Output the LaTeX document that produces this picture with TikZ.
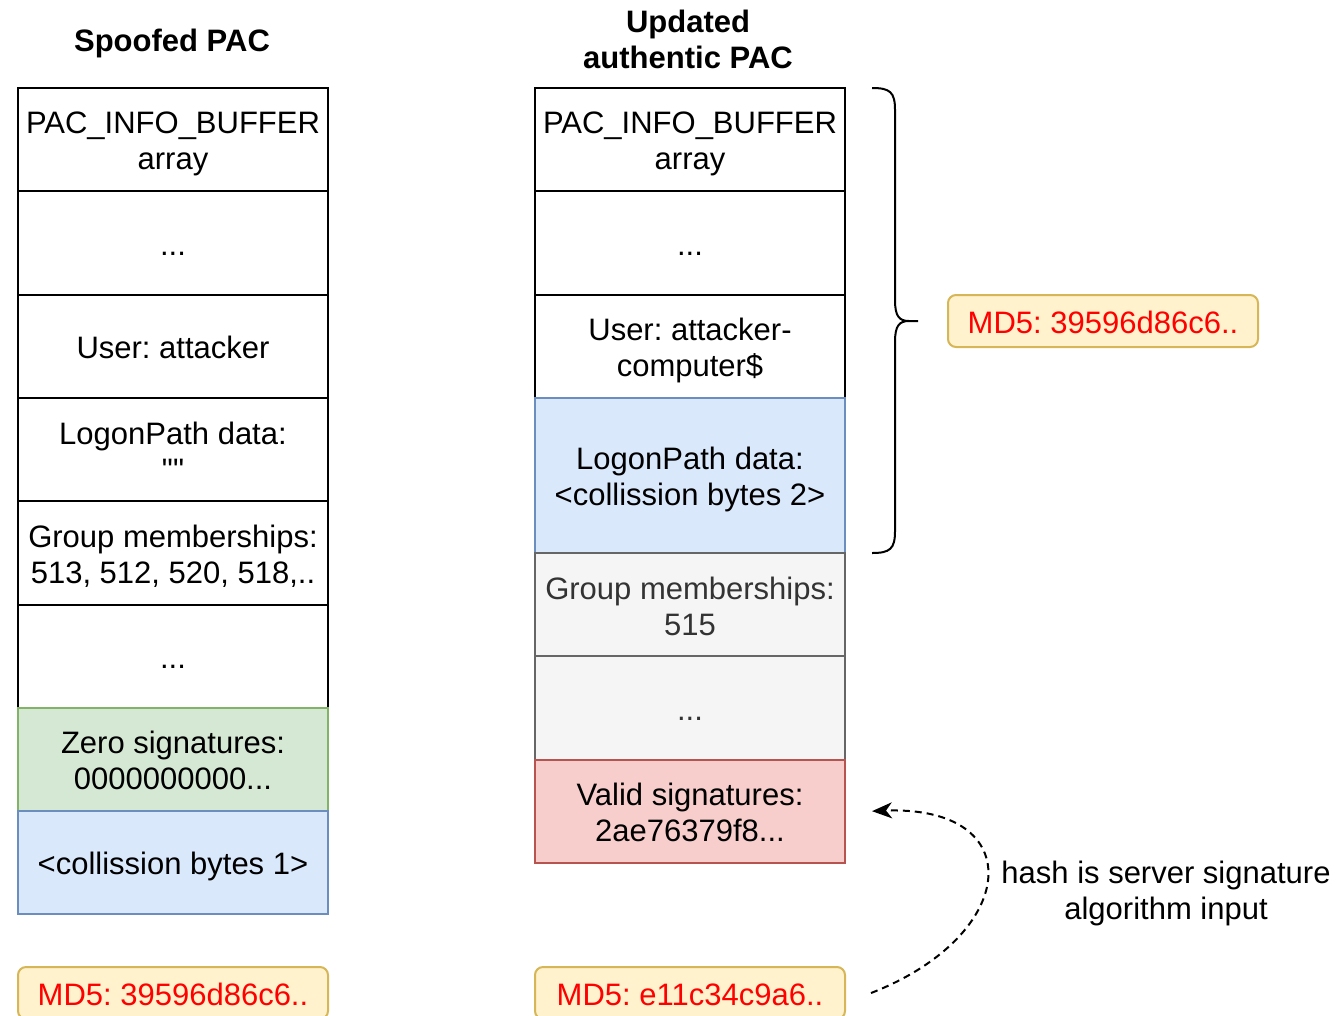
\documentclass[tikz,border=0pt]{standalone}
\usepackage{fontspec}
\newfontfamily\lsans{Liberation Sans}
\usetikzlibrary{arrows.meta}
\definecolor{greenfill}{HTML}{D5E8D4}
\definecolor{greenline}{HTML}{82B366}
\definecolor{bluefill}{HTML}{DAE8FC}
\definecolor{blueline}{HTML}{6C8EBF}
\definecolor{grayfill}{HTML}{F5F5F5}
\definecolor{grayline}{HTML}{666666}
\definecolor{graytext}{HTML}{333333}
\definecolor{redfill}{HTML}{F8CECC}
\definecolor{redline}{HTML}{B85450}
\definecolor{notefill}{HTML}{FFF2CC}
\definecolor{noteline}{HTML}{D6B656}
\definecolor{hashred}{HTML}{FF0000}
% line strut: every text line occupies a 36pt box
\newcommand{\ls}{\rule[-5.5pt]{0pt}{36pt}}
\tikzset{
  txt/.style={font=\lsans\frenchspacing\fontsize{31}{36}\selectfont, align=center,
    execute at end node=\ls},
  cell/.style={txt, draw=black, fill=white, line width=2pt, rectangle,
    minimum width=310pt, minimum height=103.3pt, inner sep=0pt, outer sep=0pt,
    anchor=north},
  tallcell/.style={cell, minimum height=155pt},
  greencell/.style={fill=greenfill, draw=greenline},
  bluecell/.style={fill=bluefill, draw=blueline},
  graycell/.style={fill=grayfill, draw=grayline, text=graytext},
  redcell/.style={fill=redfill, draw=redline},
  hashbox/.style={txt, draw=noteline, fill=notefill, line width=2pt,
    rounded corners=8pt, minimum width=310pt, minimum height=52pt,
    inner sep=0pt, text=hashred},
  title/.style={txt, font=\lsans\bfseries\frenchspacing\fontsize{31}{36}\selectfont},
  hasharrow/.style={dashed, dash pattern=on 7pt off 5pt, line width=2pt,
    -{Stealth[length=20pt, width=16pt, inset=6pt]}},
}
\begin{document}
\begin{tikzpicture}[x=1pt, y=-1pt]
\useasboundingbox (0,0) rectangle (1337,1015);

% titles
\node[title] (tspoof) at (172,39) {\ls Spoofed PAC};
\node[title] (tauth) at (688,38) {\ls Updated\\authentic PAC};

% spoofed PAC layout
\node[cell] (l1) at (173,88) {\ls PAC\_INFO\_BUFFER\\array};
\node[cell] (l2) at (l1.south) {\ls ...};
\node[cell] (l3) at (l2.south) {\ls User: attacker};
\node[cell] (l4) at (l3.south) {\ls LogonPath data:\\""};
\node[cell] (l5) at (l4.south) {\ls Group memberships:\\513, 512, 520, 518,..};
\node[cell] (l6) at (l5.south) {\ls ...};
\node[cell, greencell] (l7) at (l6.south) {\ls Zero signatures:\\0000000000...};
\node[cell, bluecell] (l8) at (l7.south) {\ls <collission bytes 1>};

% updated authentic PAC layout
\node[cell] (r1) at (690,88) {\ls PAC\_INFO\_BUFFER\\array};
\node[cell] (r2) at (r1.south) {\ls ...};
\node[cell] (r3) at (r2.south) {\ls User: attacker-\\computer\$};
\node[tallcell, bluecell] (r4) at (r3.south) {\ls LogonPath data:\\<collission bytes 2>};
\node[cell, graycell] (r5) at (r4.south) {\ls Group memberships:\\515};
\node[cell, graycell] (r6) at (r5.south) {\ls ...};
\node[cell, redcell] (r7) at (r6.south) {\ls Valid signatures:\\2ae76379f8...};

% hashes
\node[hashbox, anchor=north] (md5l) at (173,966) {\ls MD5: 39596d86c6..};
\node[hashbox, anchor=north] (md5r) at (690,966) {\ls MD5: e11c34c9a6..};
\node[hashbox] (md5b) at (1103,321) {\ls MD5: 39596d86c6..};

% brace over the hashed part
\draw[line width=2pt] (872,88) .. controls (890,88) and (895,92) .. (895,110)
  -- (895,300) .. controls (895,316) and (899,321) .. (909,321) -- (918,321)
  (909,321) .. controls (899,321) and (895,326) .. (895,342)
  -- (895,531) .. controls (895,549) and (890,553) .. (872,553);

% hash feeds the signature
\coordinate (hs) at ([xshift=25pt]md5r.east);
\coordinate (he) at ([xshift=27pt]r7.east);
\draw[hasharrow] (hs) .. controls (1020,935) and (1030,805) .. (he);
\node[txt] (hlabel) at (1166,889) {\ls hash is server signature\\algorithm input};
\end{tikzpicture}
\end{document}
